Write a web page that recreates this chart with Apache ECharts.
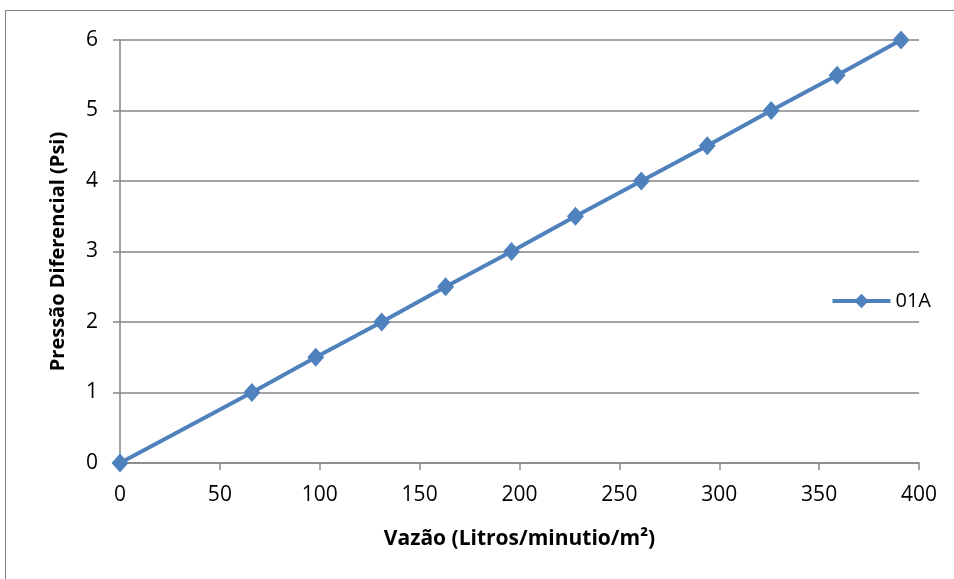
<!DOCTYPE html>
<html><head><meta charset="utf-8">
<script src="https://cdn.jsdelivr.net/npm/echarts@6/dist/echarts.min.js"></script>
<style>html,body{margin:0;padding:0;background:#fff}#c{width:954px;height:579px}</style>
</head><body><div id="c"></div>
<script>
const seriesName = '01A';
const xValues = [0, 66, 98, 131, 163, 196, 228, 261, 294, 326, 359, 391];
const yValues = [0, 1, 1.5, 2, 2.5, 3, 3.5, 4, 4.5, 5, 5.5, 6];
const xTitle = 'Vazão (Litros/minutio/m²)';
const yTitle = 'Pressão Diferencial (Psi)';

const chart = echarts.init(document.getElementById('c'));
const font = 'Open Sans, Noto Sans, sans-serif';
chart.setOption({
  animation: false,
  backgroundColor: '#fff',
  graphic: [{type:'rect', shape:{x:5.5,y:10.5,width:960,height:600}, style:{fill:'none', stroke:'#7f7f7f', lineWidth:1}}],
  grid: {left:120, right:35, top:40, bottom:116, containLabel:false},
  legend: {
    data:[seriesName], right:18, top:286, orient:'vertical',
    itemWidth:58, itemHeight:18, itemGap:4,
    lineStyle:{width:4},
    textStyle:{fontFamily:font, fontSize:20, color:'#000'}
  },
  xAxis: {
    type:'value', min:0, max:400, interval:50,
    name:xTitle, nameLocation:'middle', nameGap:66,
    nameTextStyle:{fontFamily:font, fontSize:21, fontWeight:'bold', color:'#000'},
    axisLine:{show:true, lineStyle:{color:'#868686', width:1.5}},
    axisTick:{show:true, inside:false, length:7, lineStyle:{color:'#868686', width:1.5}},
    axisLabel:{fontFamily:font, fontSize:21, color:'#000', margin:22},
    splitLine:{show:false}
  },
  yAxis: {
    type:'value', min:0, max:6, interval:1,
    name:yTitle, nameLocation:'middle', nameGap:52,
    nameTextStyle:{fontFamily:font, fontSize:20, fontWeight:'bold', color:'#000'},
    axisLine:{show:true, lineStyle:{color:'#868686', width:1.5}},
    axisTick:{show:true, inside:false, length:7, lineStyle:{color:'#868686', width:1.5}},
    axisLabel:{fontFamily:font, fontSize:21, color:'#000', margin:22},
    splitLine:{show:true, lineStyle:{color:'#868686', width:1.5}}
  },
  series: [{
    name:seriesName, type:'line',
    data: xValues.map((x,i)=>[x, yValues[i]]),
    symbol:'diamond', symbolSize:[17,19],
    lineStyle:{color:'#4f81bd', width:4},
    itemStyle:{color:'#4f81bd'},
    clip:false
  }]
});
</script></body></html>
